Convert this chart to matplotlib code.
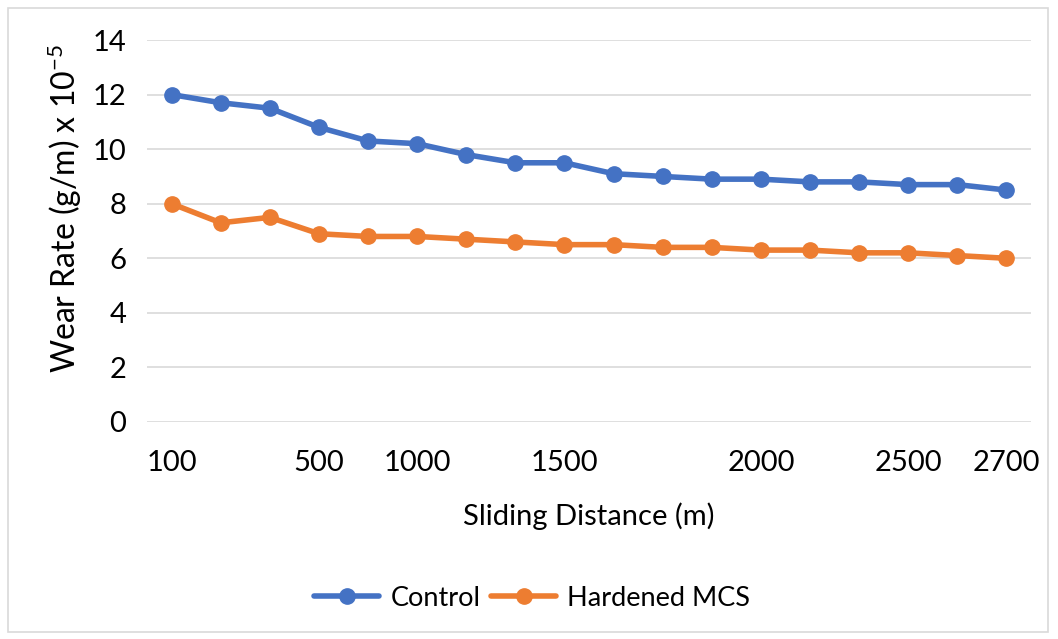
import matplotlib
matplotlib.use("Agg")
import matplotlib.pyplot as plt
from matplotlib.patches import Rectangle

# -----------
# Chart data
# -----------

distance_labels = ["100", "", "", "500", "", "1000", "", "", "1500", "",
                   "", "", "2000", "", "", "2500", "", "2700"]
control = [12.0, 11.7, 11.5, 10.8, 10.3, 10.2, 9.8, 9.5, 9.5,
           9.1, 9.0, 8.9, 8.9, 8.8, 8.8, 8.7, 8.7, 8.5]
hardened = [8.0, 7.3, 7.5, 6.9, 6.8, 6.8, 6.7, 6.6, 6.5,
            6.5, 6.4, 6.4, 6.3, 6.3, 6.2, 6.2, 6.1, 6.0]
y_ticks = [0, 2, 4, 6, 8, 10, 12, 14]

BLUE = "#4472C4"
ORANGE = "#ED7D31"
GRID = "#D9D9D9"

plt.rcParams["font.family"] = ["Lato", "DejaVu Sans"]
plt.rcParams["mathtext.fontset"] = "custom"
plt.rcParams["mathtext.rm"] = "Lato"
plt.rcParams["mathtext.it"] = "Lato"

fig = plt.figure(figsize=(10.58, 6.39), dpi=100)
fig.patches.append(Rectangle((0.008, 0.011), 0.983, 0.977, transform=fig.transFigure,
                             fill=False, edgecolor=GRID, linewidth=1.2))

ax = fig.add_axes([0.139, 0.3396, 0.8355, 0.5978])
x = list(range(len(distance_labels)))

ax.plot(x, control, color=BLUE, linewidth=4, marker="o", markersize=11,
        label="Control", solid_capstyle="round")
ax.plot(x, hardened, color=ORANGE, linewidth=4, marker="o", markersize=11,
        label="Hardened MCS", solid_capstyle="round")

ax.set_xlim(-0.5, len(x) - 0.5)
ax.set_ylim(0, 14)
ax.set_yticks(y_ticks)
ax.set_xticks(x)
ax.set_xticklabels(distance_labels)
ax.tick_params(axis="both", length=0, labelsize=21, colors="black")
ax.tick_params(axis="y", pad=15)
ax.tick_params(axis="x", pad=20)
ax.grid(True, axis="y", color=GRID, linewidth=1.2)
ax.set_axisbelow(True)
for s in ax.spines.values():
    s.set_visible(False)

ax.set_xlabel("Sliding Distance (m)", fontsize=21, labelpad=19)
ax.set_ylabel(r"Wear Rate (g/m) x 10$^{-5}$", fontsize=23)
ax.yaxis.set_label_coords(-0.071, 0.56)

fig.legend(loc="center", bbox_to_anchor=(0.503, 0.064), ncol=2, frameon=False,
           fontsize=19.5, handlelength=2.4, columnspacing=0.4, handletextpad=0.4)

fig.savefig("out.png", dpi=100)
